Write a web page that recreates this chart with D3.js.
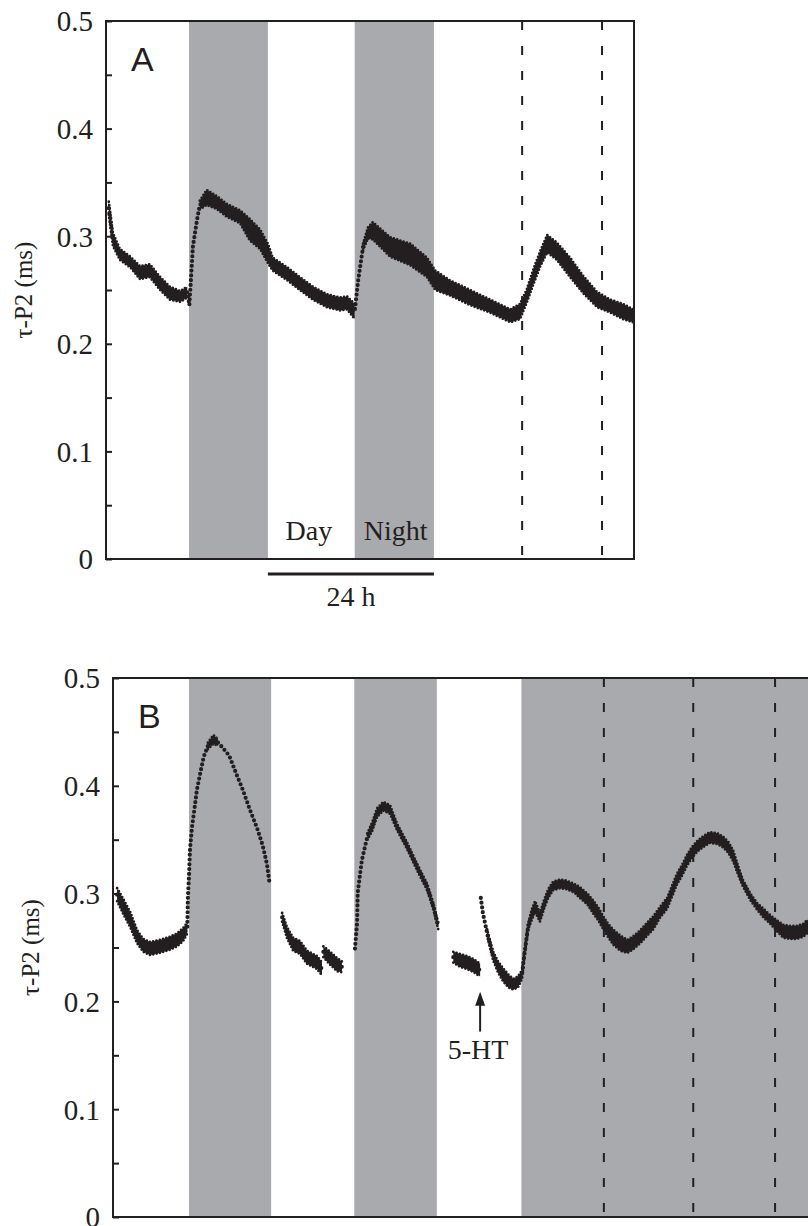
<!DOCTYPE html>
<html>
<head>
<meta charset="utf-8">
<script src="https://d3js.org/d3.v7.min.js"></script>
<style>
  body { margin: 0; background: #fff; }
  svg { display: block; }
  .serif { font-family: "Liberation Serif", "Times New Roman", serif; fill: #231f20; }
  .letter { font-family: "Liberation Sans", Arial, sans-serif; font-size: 34px; fill: #231f20; }
</style>
</head>
<body>
<div id="figure"></div>
<script>
// hours since start of recording, tau-P2 (ms), half width of the dot cloud (ms)

// panel A
let tA = [0.4, 1.0, 2.0, 3.5, 4.9, 6.3, 7.8, 9.2, 10.7, 11.7, 12.0, 12.4, 12.5, 13.1, 13.5, 14.5, 16.0, 17.4, 19.3, 20.7,
  22.2, 23.3, 24.0, 26.1, 27.9, 29.8, 31.8, 33.7, 34.7, 35.8, 36.3, 37.0, 37.7, 38.4, 40.9, 43.8, 46.2, 47.4, 49.5, 52.4,
  55.3, 58.2, 59.6, 60.6, 61.5, 62.5, 63.5, 64.9, 66.8, 68.7, 70.7, 72.6, 74.4, 75.9];
let vA = [0.326, 0.297, 0.283, 0.276, 0.266, 0.268, 0.256, 0.247, 0.244, 0.248, 0.236, 0.278, 0.290, 0.315, 0.329, 0.336, 0.331, 0.324, 0.318, 0.306,
  0.297, 0.284, 0.274, 0.265, 0.256, 0.247, 0.240, 0.237, 0.238, 0.230, 0.259, 0.290, 0.303, 0.305, 0.290, 0.283, 0.271, 0.259, 0.252, 0.243,
  0.235, 0.226, 0.230, 0.245, 0.262, 0.279, 0.293, 0.286, 0.271, 0.255, 0.241, 0.235, 0.230, 0.226];
let sA = [0.006, 0.006, 0.005, 0.005, 0.006, 0.006, 0.006, 0.006, 0.005, 0.005, 0.002, 0.002, 0.002, 0.002, 0.004, 0.007, 0.006, 0.006, 0.006, 0.010,
  0.009, 0.009, 0.006, 0.006, 0.006, 0.006, 0.006, 0.006, 0.006, 0.007, 0.002, 0.003, 0.005, 0.008, 0.009, 0.010, 0.009, 0.009, 0.007, 0.007,
  0.006, 0.006, 0.007, 0.006, 0.007, 0.007, 0.008, 0.008, 0.009, 0.008, 0.007, 0.006, 0.007, 0.006];
let nightsA = [[11.95, 23.3], [35.8, 47.2]];
let dashedA = [59.9, 71.4];
let barA = [23.3, 47.2];
let dayNightA = [["Day", 29.2], ["Night", 41.7]];

// panel B, recording broken into pieces
let tB1 = [0.6, 1.5, 2.5, 3.5, 4.4, 5.4, 6.8, 8.3, 9.3, 10.2, 10.8, 10.9, 11.05, 11.2, 11.5, 11.9, 12.2, 12.7, 13.2, 13.8,
  14.6, 15.3, 16.0, 16.9, 18.0, 18.9, 19.9, 21.0, 21.8, 22.4, 22.8];
let vB1 = [0.299, 0.288, 0.276, 0.260, 0.252, 0.249, 0.251, 0.254, 0.257, 0.262, 0.268, 0.297, 0.316, 0.341, 0.362, 0.381, 0.396, 0.412, 0.427, 0.437,
  0.443, 0.440, 0.435, 0.428, 0.410, 0.396, 0.378, 0.360, 0.344, 0.327, 0.308];
let sB1 = [0.006, 0.007, 0.007, 0.006, 0.006, 0.006, 0.006, 0.006, 0.006, 0.006, 0.005, 0.001, 0.001, 0.001, 0.001, 0.001, 0.001, 0.001, 0.002, 0.003,
  0.004, 0.003, 0.002, 0.002, 0.002, 0.002, 0.002, 0.002, 0.003, 0.002, 0.002];

let tB2 = [24.6, 25.3, 26.2, 27.2, 28.2, 29.1, 29.7, 30.4];
let vB2 = [0.278, 0.264, 0.253, 0.250, 0.241, 0.238, 0.236, 0.230];
let sB2 = [0.004, 0.005, 0.006, 0.006, 0.006, 0.006, 0.006, 0.006];

let tB3 = [30.6, 31.6, 32.6, 33.3];
let vB3 = [0.246, 0.240, 0.234, 0.232];
let sB3 = [0.005, 0.006, 0.006, 0.005];

let tB4 = [35.2, 35.5, 35.6, 36.2, 37.0, 37.7, 38.4, 39.3, 40.3, 41.3, 42.8, 44.2, 45.7, 46.6, 47.3];
let vB4 = [0.249, 0.273, 0.301, 0.331, 0.353, 0.362, 0.375, 0.381, 0.378, 0.362, 0.344, 0.325, 0.306, 0.288, 0.270];
let sB4 = [0.003, 0.002, 0.002, 0.002, 0.003, 0.004, 0.004, 0.004, 0.004, 0.003, 0.003, 0.003, 0.003, 0.003, 0.003];

let tB5 = [49.5, 50.5, 51.5, 52.5, 53.4];
let vB5 = [0.241, 0.238, 0.236, 0.233, 0.229];
let sB5 = [0.005, 0.006, 0.006, 0.006, 0.006];

let tB6 = [53.5, 53.8, 54.4, 55.3, 56.0, 56.7, 57.5, 58.2, 58.9, 59.5, 59.8, 60.4, 61.0, 61.4, 62.1, 62.7, 63.3, 64.0, 65.0, 66.0,
  67.1, 67.9, 69.0, 69.8, 70.6, 71.3, 72.0, 72.7, 73.8, 74.8, 75.6, 76.7, 77.7, 78.6, 79.6, 80.6, 81.3, 82.0, 82.8, 83.5,
  84.2, 85.0, 85.8, 86.8, 87.9, 88.7, 89.5, 90.2, 90.9, 91.6, 92.7, 93.7, 94.6, 95.6, 96.6, 97.5, 98.5, 99.5, 100.4, 101.1];
let vB6 = [0.296, 0.282, 0.264, 0.242, 0.232, 0.225, 0.219, 0.216, 0.218, 0.225, 0.242, 0.270, 0.282, 0.288, 0.278, 0.290, 0.300, 0.307, 0.309, 0.308,
  0.305, 0.301, 0.295, 0.288, 0.281, 0.273, 0.266, 0.260, 0.254, 0.251, 0.254, 0.260, 0.267, 0.273, 0.283, 0.291, 0.302, 0.313, 0.322, 0.331,
  0.338, 0.344, 0.348, 0.352, 0.351, 0.348, 0.343, 0.335, 0.322, 0.310, 0.297, 0.288, 0.282, 0.276, 0.270, 0.265, 0.264, 0.264, 0.266, 0.270];
let sB6 = [0.002, 0.002, 0.003, 0.004, 0.005, 0.006, 0.006, 0.005, 0.005, 0.004, 0.003, 0.003, 0.005, 0.005, 0.004, 0.004, 0.004, 0.004, 0.004, 0.004,
  0.004, 0.005, 0.005, 0.006, 0.006, 0.006, 0.006, 0.007, 0.007, 0.006, 0.006, 0.006, 0.006, 0.006, 0.005, 0.005, 0.005, 0.005, 0.005, 0.005,
  0.005, 0.005, 0.005, 0.005, 0.005, 0.005, 0.005, 0.005, 0.004, 0.003, 0.003, 0.003, 0.004, 0.004, 0.005, 0.006, 0.006, 0.006, 0.006, 0.006];

let nightsB = [[11.05, 23.0], [35.1, 47.1], [59.4, 110]];
let dashedB = [71.4, 84.4, 96.3];
let arrowB = { t: 53.4, tip: 0.209, tail: 0.172, label: "5-HT" };

// y axis
let yTicks = [0, 0.1, 0.2, 0.3, 0.4, 0.5];
let yMinor = [0.05, 0.15, 0.25, 0.35, 0.45];
let yTitle = "\u03c4-P2 (ms)";

// colours
let ink = "#231f20";
let shade = "#a9aaad";
let serif = '"Liberation Serif", "Times New Roman", serif';

function series(t, v, s) {
  return t.map(function(d, i) {
    return { t: d, v: v[i], s: s[i] };
  });
}

let svg = d3.select("#figure").append("svg")
  .attr("width", 808)
  .attr("height", 1226);

function panel(opts) {
  let x = d3.scaleLinear().domain(opts.xDomain).range([opts.left, opts.right]);
  let y = d3.scaleLinear().domain([0, 0.5]).range([opts.bottom, opts.top]);

  let g = svg.append("g");

  g.append("clipPath").attr("id", "clip" + opts.id)
    .append("rect")
    .attr("x", opts.left).attr("y", opts.top)
    .attr("width", opts.right - opts.left).attr("height", opts.bottom - opts.top);

  let inner = g.append("g").attr("clip-path", "url(#clip" + opts.id + ")");

  // night shading
  inner.selectAll("rect.night")
    .data(opts.nights)
    .enter()
    .append("rect")
    .attr("x", d => x(d[0]))
    .attr("width", d => x(d[1]) - x(d[0]))
    .attr("y", opts.top)
    .attr("height", opts.bottom - opts.top)
    .attr("fill", shade);

  // dashed markers
  inner.selectAll("line.dash")
    .data(opts.dashed)
    .enter()
    .append("line")
    .attr("x1", d => x(d)).attr("x2", d => x(d))
    .attr("y1", opts.top).attr("y2", opts.bottom)
    .attr("stroke", ink)
    .attr("stroke-width", 2)
    .attr("stroke-dasharray", "9 16");

  // the dot cloud: filled band where it is dense, chains of round dots everywhere
  let dense = d => d.s > 0.002;
  let band = d3.area()
    .defined(dense)
    .x(d => x(d.t))
    .y0(d => y(d.v - d.s))
    .y1(d => y(d.v + d.s));
  let mid = d3.line().x(d => x(d.t)).y(d => y(d.v));
  let lo = d3.line().defined(dense).x(d => x(d.t)).y(d => y(d.v - d.s));
  let hi = d3.line().defined(dense).x(d => x(d.t)).y(d => y(d.v + d.s));

  opts.segments.forEach(function(seg) {
    inner.append("path").attr("d", band(seg)).attr("fill", ink);
    [[mid, 4.2, "0 4.8"], [lo, 2.8, "0 3.4"], [hi, 2.8, "0 3.4"]].forEach(function(p) {
      inner.append("path")
        .attr("d", p[0](seg))
        .attr("fill", "none")
        .attr("stroke", ink)
        .attr("stroke-width", p[1])
        .attr("stroke-linecap", "round")
        .attr("stroke-dasharray", p[2]);
    });
  });

  // frame
  g.append("rect")
    .attr("x", opts.left).attr("y", opts.top)
    .attr("width", opts.right - opts.left).attr("height", opts.bottom - opts.top)
    .attr("fill", "none")
    .attr("stroke", ink)
    .attr("stroke-width", 2);

  // y ticks point inwards
  let axis = g.append("g")
    .attr("transform", "translate(" + opts.left + ",0)")
    .call(d3.axisLeft(y).tickValues(yTicks).tickSizeInner(-6).tickSizeOuter(0).tickPadding(13)
      .tickFormat(d => d === 0 ? "0" : d.toFixed(1)));
  axis.select(".domain").remove();
  axis.selectAll(".tick line").attr("stroke", ink).attr("stroke-width", 2);
  axis.selectAll(".tick text")
    .attr("dy", "0.34em")
    .style("font-family", serif)
    .style("font-size", "29px")
    .style("fill", ink);

  let minor = g.append("g")
    .attr("transform", "translate(" + opts.left + ",0)")
    .call(d3.axisLeft(y).tickValues(yMinor).tickSizeInner(-6).tickSizeOuter(0).tickFormat(""));
  minor.select(".domain").remove();
  minor.selectAll(".tick line").attr("stroke", ink).attr("stroke-width", 2);

  // axis title
  g.append("text")
    .attr("class", "serif")
    .attr("transform", "translate(" + (opts.left - 74) + "," + ((opts.top + opts.bottom) / 2) + ")rotate(-90)")
    .attr("text-anchor", "middle")
    .style("font-size", "25px")
    .text(yTitle);

  // panel letter
  g.append("text")
    .attr("class", "letter")
    .attr("x", opts.left + 25)
    .attr("y", opts.top + 50)
    .text(opts.letter);

  return { g: g, x: x, y: y };
}

// panel A
let a = panel({
  id: "A", letter: "A",
  left: 106, right: 634, top: 21, bottom: 559,
  xDomain: [0, 76],
  nights: nightsA, dashed: dashedA,
  segments: [series(tA, vA, sA)]
});

a.g.selectAll("text.daynight")
  .data(dayNightA)
  .enter()
  .append("text")
  .attr("class", "serif")
  .attr("x", d => a.x(d[1]))
  .attr("y", 559 - 19)
  .attr("text-anchor", "middle")
  .style("font-size", "28px")
  .text(d => d[0]);

a.g.append("line")
  .attr("x1", a.x(barA[0])).attr("x2", a.x(barA[1]))
  .attr("y1", 574).attr("y2", 574)
  .attr("stroke", ink)
  .attr("stroke-width", 3);

a.g.append("text")
  .attr("class", "serif")
  .attr("x", (a.x(barA[0]) + a.x(barA[1])) / 2)
  .attr("y", 606)
  .attr("text-anchor", "middle")
  .style("font-size", "28px")
  .text("24 h");

// panel B
let b = panel({
  id: "B", letter: "B",
  left: 113, right: 828, top: 678, bottom: 1217,
  xDomain: [0, 104],
  nights: nightsB, dashed: dashedB,
  segments: [
    series(tB1, vB1, sB1),
    series(tB2, vB2, sB2),
    series(tB3, vB3, sB3),
    series(tB4, vB4, sB4),
    series(tB5, vB5, sB5),
    series(tB6, vB6, sB6)
  ]
});

// 5-HT arrow
let ax = b.x(arrowB.t);
b.g.append("line")
  .attr("x1", ax).attr("x2", ax)
  .attr("y1", b.y(arrowB.tail)).attr("y2", b.y(arrowB.tip) + 10)
  .attr("stroke", ink)
  .attr("stroke-width", 2);
b.g.append("path")
  .attr("d", "M" + ax + "," + b.y(arrowB.tip) + "L" + (ax - 5) + "," + (b.y(arrowB.tip) + 14) + "L" + (ax + 5) + "," + (b.y(arrowB.tip) + 14) + "Z")
  .attr("fill", ink);
b.g.append("text")
  .attr("class", "serif")
  .attr("x", ax - 2)
  .attr("y", b.y(arrowB.tail) + 27)
  .attr("text-anchor", "middle")
  .style("font-size", "28px")
  .text(arrowB.label);
</script>
</body>
</html>
